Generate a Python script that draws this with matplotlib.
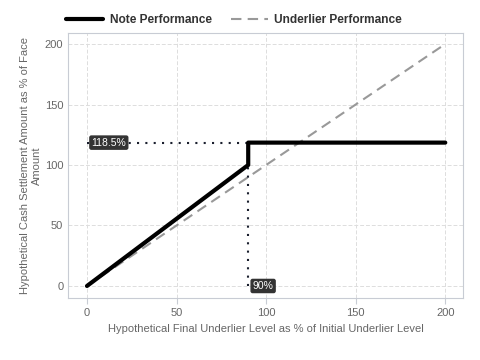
import matplotlib
matplotlib.use("Agg")
import matplotlib.pyplot as plt

plt.rcParams['font.family'] = ['Liberation Sans', 'DejaVu Sans']

# -- Data --
note_x = [0, 90, 90, 200]
note_y = [0, 100, 118.5, 118.5]
under_x = [0, 200]
under_y = [0, 200]
barrier = 90
cap = 118.5
xticks = [0, 50, 100, 150, 200]
yticks = [0, 50, 100, 150, 200]

fig, ax = plt.subplots(figsize=(4.8, 3.6), dpi=100)
fig.subplots_adjust(left=0.142, right=0.965, top=0.908, bottom=0.172)

ax.plot(under_x, under_y, color='#999999', lw=1.5, ls=(0, (5, 3)), label='Underlier Performance', zorder=2)
ax.plot(note_x, note_y, color='black', lw=3, label='Note Performance', zorder=3, solid_capstyle='round')

# dotted guides at the barrier and the cap
ax.plot([barrier, barrier], [0, cap], color='#1a1f2e', lw=1.5, ls=(0, (1, 3)), zorder=2)
ax.plot([0, barrier], [cap, cap], color='#1a1f2e', lw=1.5, ls=(0, (1, 3)), zorder=2)

box = dict(boxstyle='round,pad=0.15', fc='#333333', ec='#333333')
ax.text(2.5, cap, '118.5%', color='white', fontsize=7.5, va='center', ha='left', bbox=box, zorder=4)
ax.text(barrier + 2.5, 0, '90%', color='white', fontsize=7.5, va='center', ha='left', bbox=box, zorder=4)

ax.set_xlim(-10.5, 210)
ax.set_ylim(-10, 209)
ax.set_xticks(xticks)
ax.set_yticks(yticks)
ax.grid(True, color='#dddddd', ls=(0, (4, 2)), lw=0.7)
ax.set_axisbelow(True)
for s in ax.spines.values():
    s.set_color('#c8ccd4')
ax.tick_params(colors='#c8ccd4', labelcolor='#666666', labelsize=8, length=4)
ax.tick_params(axis='y', length=0)

ax.set_xlabel('Hypothetical Final Underlier Level as % of Initial Underlier Level', color='#666666', fontsize=8)
ax.set_ylabel('Hypothetical Cash Settlement Amount as % of Face\nAmount', color='#666666', fontsize=8,
              linespacing=1.3, labelpad=2)

leg = fig.legend(handles=ax.get_lines()[1::-1], loc='upper left', bbox_to_anchor=(0.115, 0.99),
                 ncol=2, frameon=False, prop={'weight': 'bold', 'size': 8.6}, handlelength=3.1,
                 handletextpad=0.55, columnspacing=1.6)
for t in leg.get_texts():
    t.set_color('#333333')

fig.savefig('out.png', dpi=100)
